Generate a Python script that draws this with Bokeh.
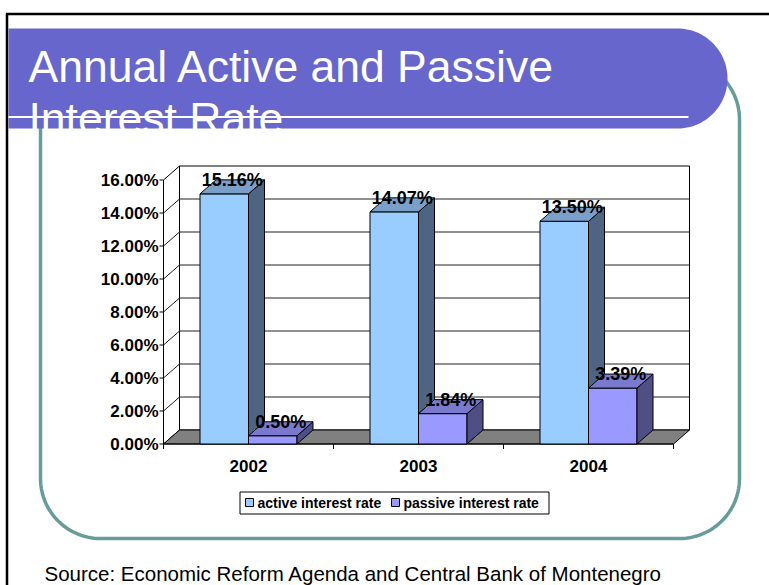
import numpy as np
from bokeh.plotting import figure
from bokeh.models import Range1d
from bokeh.core.properties import value
from bokeh.embed import file_html
from bokeh.resources import INLINE

# ---------------- data ----------------
years = ["2002", "2003", "2004"]
active = [15.16, 14.07, 13.50]
passive = [0.50, 1.84, 3.39]
y_ticks = [0, 2, 4, 6, 8, 10, 12, 14, 16]
y_tick_labels = ["0.00%", "2.00%", "4.00%", "6.00%", "8.00%",
                 "10.00%", "12.00%", "14.00%", "16.00%"]
series_names = ["active interest rate", "passive interest rate"]
title_lines = ["Annual Active and Passive", "Interest Rate"]
source_text = "Source: Economic Reform Agenda and Central Bank of Montenegro"

# ---------------- layout / style ----------------
W, H = 769, 585
CAT_PX = 170.0      # pixels per category
X_CAT0 = 248.0      # page x of first category centre
Y_ZERO = 443.5      # page y of 0 %
PX_PER_PCT = 16.5   # pixels per percentage point


def fx(X):
    return (X - X_CAT0) / CAT_PX


def fy(Y):
    return (Y_ZERO - Y) / PX_PER_PCT


SANS = "Liberation Sans"

p = figure(width=W, height=H, x_range=Range1d(fx(0), fx(W)),
           y_range=Range1d(fy(H), fy(0)), output_backend="svg",
           toolbar_location=None, tools="", x_axis_type=None,
           y_axis_type=None, min_border=0, title=None)
p.outline_line_color = None
p.background_fill_color = "white"
p.border_fill_color = "white"


def rrect(L, T, R, B, rtl, rtr, rbr, rbl, n=30):
    pts = []

    def corner(cx, cy, r, a0, a1):
        for a in np.linspace(np.radians(a0), np.radians(a1), n):
            pts.append((cx + r * np.cos(a), cy + r * np.sin(a)))
    corner(L + rtl, T + rtl, rtl, 180, 270) if rtl else pts.append((L, T))
    corner(R - rtr, T + rtr, rtr, 270, 360) if rtr else pts.append((R, T))
    corner(R - rbr, B - rbr, rbr, 0, 90) if rbr else pts.append((R, B))
    corner(L + rbl, B - rbl, rbl, 90, 180) if rbl else pts.append((L, B))
    xs = [fx(a) for a, b in pts]
    ys = [fy(b) for a, b in pts]
    return xs, ys


# slide frame lines
p.line([fx(5.5), fx(W)], [fy(13.5), fy(13.5)], line_color="black", line_width=2.5)
p.line([fx(6.5), fx(6.5)], [fy(13), fy(H)], line_color="black", line_width=2.5)

# teal rounded box
tx, ty = rrect(40, 59, 739, 538, 60, 60, 60, 60)
p.line(tx + [tx[0]], ty + [ty[0]], line_color="#669D99", line_width=3.5)

# title banner
bx, by = rrect(8, 28, 727, 128, 0, 50, 50, 0)
p.patch(bx, by, fill_color="#6666CC", line_color=None)
p.line([fx(8), fx(688)], [fy(116.5), fy(116.5)], line_color="white", line_width=2)
p.text(x=[fx(28), fx(28)], y=[fy(66), fy(118)], text=title_lines,
       text_color="white", text_font=value(SANS), text_font_size=value("44.5px"),
       text_baseline="alphabetic", text_align="left")

# ---------------- 3D chart ----------------
DX = 16 / CAT_PX
DY = 14 / PX_PER_PCT
XL, XR = -0.5, len(years) - 0.5
YMAX = y_ticks[-1]
BW = 48.5 / CAT_PX

# side wall and back wall
p.patch([XL, XL + DX, XL + DX, XL], [0, DY, YMAX + DY, YMAX],
        fill_color="white", line_color="black", line_width=1)
p.patch([XL + DX, XR + DX, XR + DX, XL + DX], [DY, DY, YMAX + DY, YMAX + DY],
        fill_color="white", line_color="black", line_width=1)
gx, gy = [], []
for v in y_ticks[1:-1]:
    gx.append([XL, XL + DX, XR + DX])
    gy.append([v, v + DY, v + DY])
p.multi_line(gx, gy, line_color="#222222", line_width=1)

# floor
p.patch([XL, XR, XR + DX, XL + DX], [0, 0, DY, DY],
        fill_color="#808080", line_color="black", line_width=1)

# axes
p.line([XL, XL], [0, YMAX], line_color="black", line_width=1)
p.line([XL, XR], [0, 0], line_color="black", line_width=1)
p.multi_line([[XL - 4 / CAT_PX, XL] for v in y_ticks], [[v, v] for v in y_ticks],
             line_color="black", line_width=1)
p.multi_line([[XL + k, XL + k] for k in range(len(years) + 1)],
             [[0, -5 / PX_PER_PCT] for k in range(len(years) + 1)],
             line_color="black", line_width=1)

p.text(x=[fx(158)] * len(y_ticks), y=y_ticks, text=y_tick_labels,
       text_font=value(SANS), text_font_style="bold", text_font_size=value("17px"),
       text_align="right", text_baseline="middle", text_color="black")
p.text(x=list(range(len(years))), y=[fy(465)] * len(years), text=years,
       text_font=value(SANS), text_font_style="bold", text_font_size=value("17px"),
       text_align="center", text_baseline="middle", text_color="black")


def bars3d(vals, offset, front, side, top):
    lefts = [i + offset for i in range(len(vals))]
    rights = [l + BW for l in lefts]
    p.quad(left=lefts, right=rights, bottom=[0] * len(vals), top=vals,
           fill_color=front, line_color="black", line_width=1)
    p.patches([[r, r + DX, r + DX, r] for r in rights],
              [[0, DY, v + DY, v] for v in vals],
              fill_color=side, line_color="black", line_width=1)
    p.patches([[l, r, r + DX, l + DX] for l, r in zip(lefts, rights)],
              [[v, v, v + DY, v + DY] for v in vals],
              fill_color=top, line_color="black", line_width=1)
    p.text(x=[(l + r) / 2 + DX / 2 for l, r in zip(lefts, rights)],
           y=[v + DY for v in vals], text=[f"{v:.2f}%" for v in vals],
           text_font=value(SANS), text_font_style="bold", text_font_size=value("18px"),
           text_align="center", text_baseline="middle", text_color="black")


bars3d(active, -BW, "#99CCFF", "#4D6582", "#7A9FC8")
bars3d(passive, 0.0, "#9999FF", "#4F4F85", "#7A7ACC")

# legend
p.quad(left=[fx(239.5)], right=[fx(548.5)], bottom=[fy(513.5)], top=[fy(491.5)],
       fill_color="white", line_color="black", line_width=1)
p.quad(left=[fx(245), fx(391)], right=[fx(253), fx(399)],
       bottom=[fy(506), fy(506)], top=[fy(498), fy(498)],
       fill_color=["#99CCFF", "#9999FF"], line_color="black", line_width=1)
p.text(x=[fx(257), fx(403)], y=[fy(502.5), fy(502.5)], text=series_names,
       text_font=value(SANS), text_font_style="bold", text_font_size=value("14px"),
       text_align="left", text_baseline="middle", text_color="black")

# source
p.text(x=[fx(44)], y=[fy(573)], text=[source_text], text_font=value(SANS),
       text_font_size=value("20.5px"), text_align="left", text_baseline="alphabetic",
       text_color="black")

open("out.html", "w").write(file_html(p, INLINE))
